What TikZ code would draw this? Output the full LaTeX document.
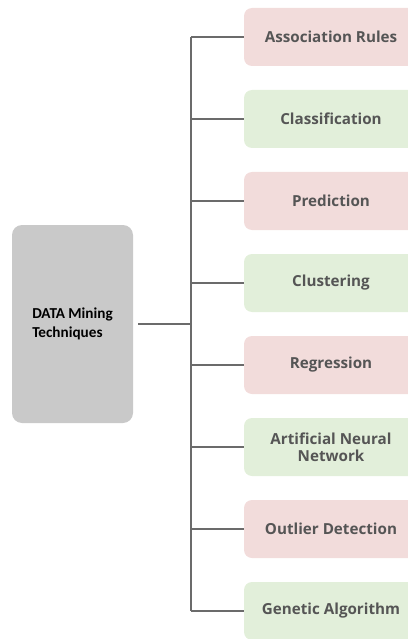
\documentclass[tikz,border=0pt]{standalone}
\usepackage{fontspec}
\setmainfont{Open Sans}
\newfontfamily\calibfont{Carlito}
\definecolor{pinkfill}{HTML}{F2DCDB}
\definecolor{greenfill}{HTML}{E2EFDA}
\definecolor{grayfill}{HTML}{C9C9C9}
\definecolor{labelgray}{HTML}{555555}
\definecolor{linegray}{HTML}{6B6B6B}
\tikzset{
    technique/.style={rounded corners=8pt, minimum width=174pt, minimum height=58pt,
        inner sep=0pt, align=center, text=labelgray,
        font=\bfseries\fontsize{15.2}{17}\selectfont},
    pinkbox/.style={technique, fill=pinkfill},
    greenbox/.style={technique, fill=greenfill},
    rootbox/.style={rounded corners=10pt, fill=grayfill, minimum width=121pt,
        minimum height=198pt, align=left, text=black,
        font=\calibfont\bfseries\fontsize{15.2}{19}\selectfont},
    branch/.style={draw=linegray, line width=1.4pt}
}
\begin{document}
\begin{tikzpicture}[x=1pt, y=-1pt]
        % Define the layout
        \def\rowgap{82} % Distance between two technique boxes
        \def\toprow{37} % Centre of the first box
        \def\trunkx{191} % The vertical line
        \useasboundingbox (0,0) rectangle (407,639);

        % Root box on the left
        \node[rootbox] (root) at (72.5,324) {DATA Mining\\Techniques};
        \coordinate (hub) at (\trunkx,324);

        % Technique boxes on the right
        \foreach \lbl/\kind [count=\i] in {Association Rules/pinkbox, Classification/greenbox,
            Prediction/pinkbox, Clustering/greenbox, Regression/pinkbox,
            {Artificial Neural\\Network}/greenbox, Outlier Detection/pinkbox,
            Genetic Algorithm/greenbox} {
            \node[\kind] (t\i) at (331,\toprow+\rowgap*\i-\rowgap) {\lbl};
        }

        % Draw the tree lines
        \draw[branch] ([xshift=5pt]root.east) -- (hub);
        \draw[branch] (t1.west -| hub) -- (t8.west -| hub);
        \foreach \i in {1,...,8} {
            \draw[branch] (t\i.west -| hub) -- (t\i.west);
        }
    \end{tikzpicture}
\end{document}
